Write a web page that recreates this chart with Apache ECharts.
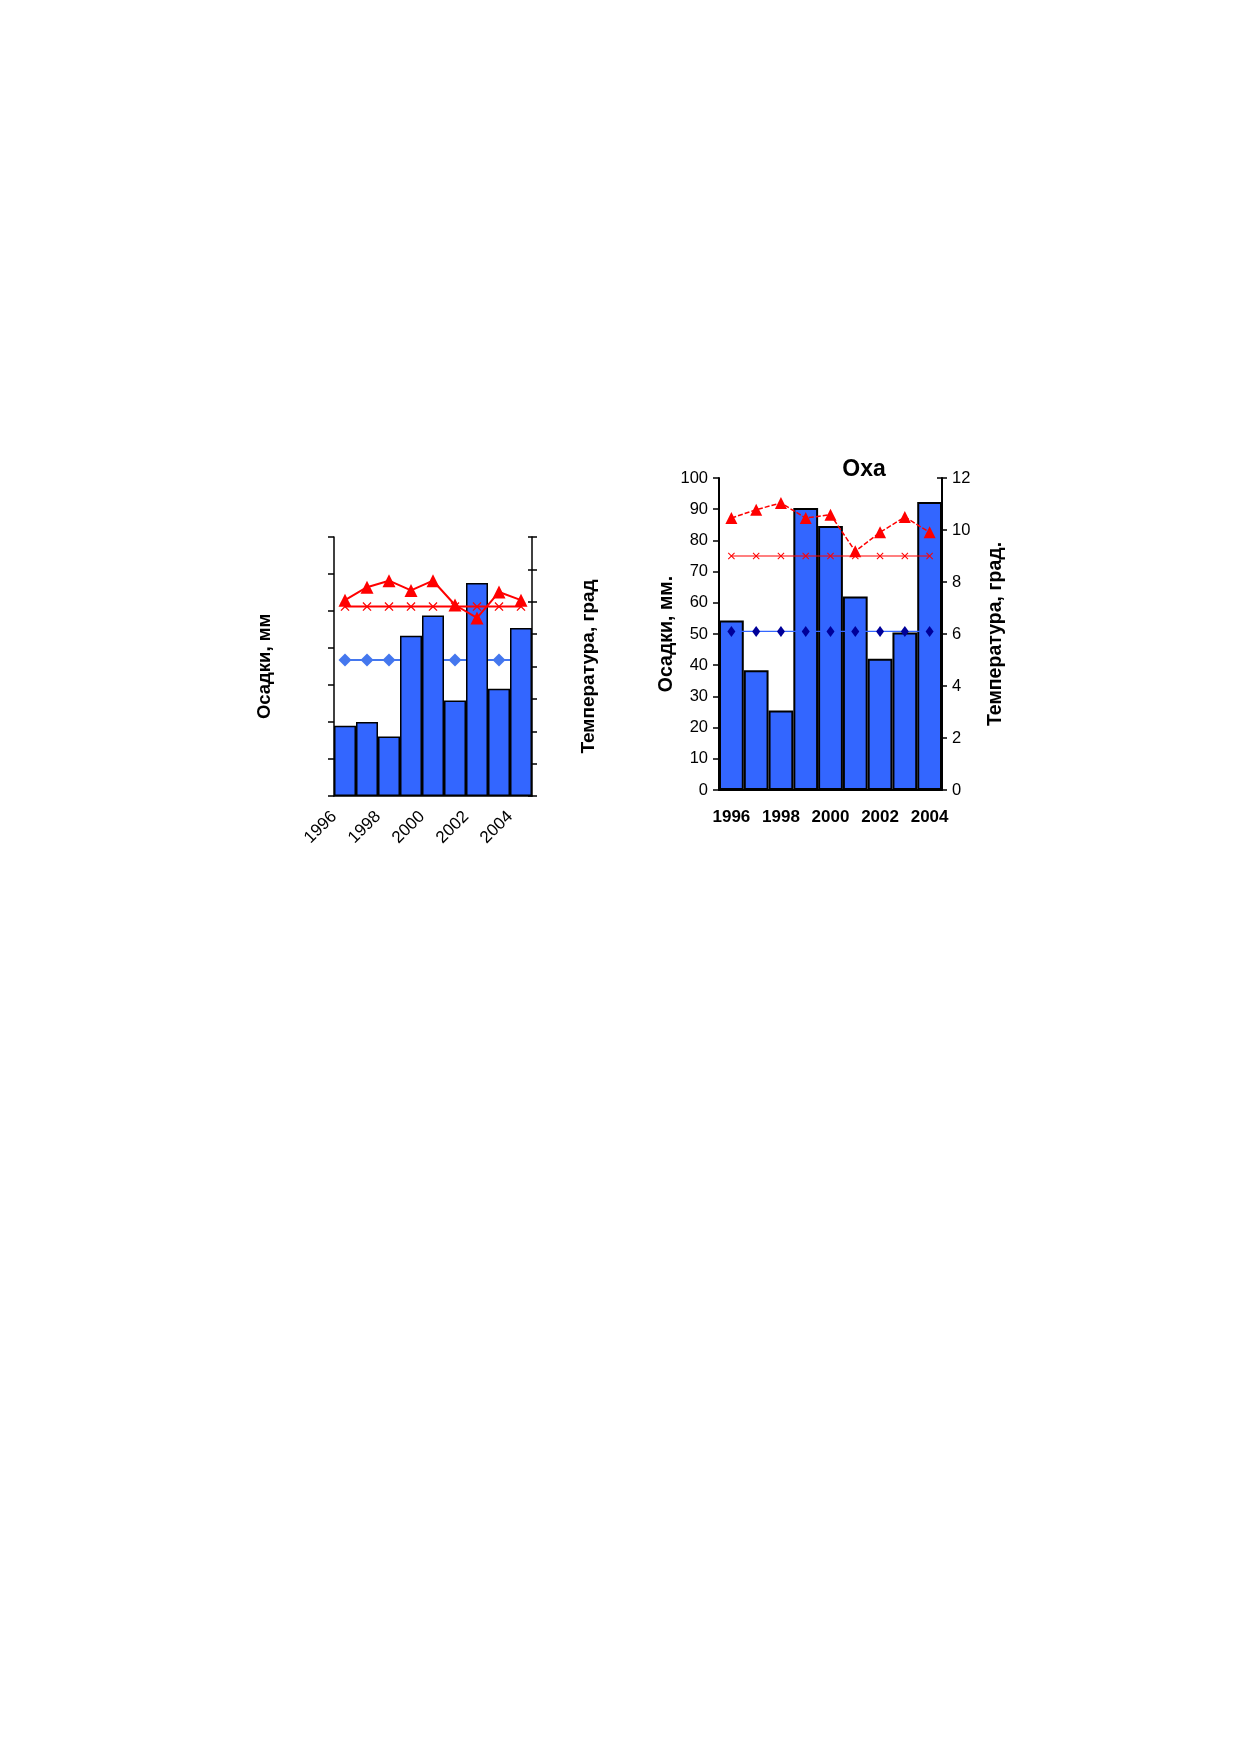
<!DOCTYPE html>
<html>
<head>
<meta charset="utf-8">
<script src="https://cdn.jsdelivr.net/npm/echarts@6/dist/echarts.min.js"></script>
<style>
  html, body { margin: 0; padding: 0; background: #fff; }
  #main { width: 1239px; height: 1752px; }
</style>
</head>
<body>
<div id="main"></div>
<script>
// годы
var years = ['1996', '1997', '1998', '1999', '2000', '2001', '2002', '2003', '2004']

// левая диаграмма (без подписей шкал)
var leftPrecip = [19.0, 20.0, 16.1, 43.3, 48.8, 25.8, 57.6, 29.0, 45.4]
var leftTemp = [12.1, 12.9, 13.3, 12.7, 13.3, 11.8, 11.0, 12.6, 12.1]
var leftTempNorm = [11.7, 11.7, 11.7, 11.7, 11.7, 11.7, 11.7, 11.7, 11.7]
var leftPrecipNorm = [8.4, 8.4, 8.4, 8.4, 8.4, 8.4, 8.4, 8.4, 8.4]

// Оха
var ohaPrecip = [54.3, 38.4, 25.5, 90.4, 84.6, 62.0, 42.1, 50.5, 92.3]
var ohaTemp = [10.46, 10.78, 11.04, 10.46, 10.59, 9.18, 9.91, 10.5, 9.91]
var ohaTempNorm = [9.0, 9.0, 9.0, 9.0, 9.0, 9.0, 9.0, 9.0, 9.0]
var ohaPrecipNorm = [6.1, 6.1, 6.1, 6.1, 6.1, 6.1, 6.1, 6.1, 6.1]

var font = 'Liberation Sans, Arial, sans-serif'
var crossSymbol = 'path://M0,1L1,0L5,4L9,0L10,1L6,5L10,9L9,10L5,6L1,10L0,9L4,5Z'
var black = '#000'

var myChart = echarts.init(document.getElementById('main'))

myChart.setOption({
  backgroundColor: '#fff',
  animation: false,
  textStyle: { fontFamily: font, color: black },
  title: {
    text: 'Оха',
    left: 859,
    textAlign: 'center',
    top: 453,
    textStyle: { fontSize: 23, fontWeight: 'bold', color: black, fontFamily: font }
  },
  grid: [
    { left: 334, top: 537, width: 198, height: 259 },
    { left: 719, top: 478, width: 223, height: 312 }
  ],
  xAxis: [
    {
      type: 'category', gridIndex: 0, data: years, boundaryGap: true, position: 'bottom',
      axisLine: { lineStyle: { color: black, width: 1.5 } },
      axisTick: { interval: 0, length: 4, lineStyle: { color: black, width: 1.5 } },
      axisLabel: { show: false }
    },
    {
      type: 'category', gridIndex: 0, data: years, boundaryGap: true, position: 'bottom',
      axisLine: { show: false },
      axisTick: { inside: true, interval: 0, length: 3, lineStyle: { color: black, width: 1.5 } },
      axisLabel: { show: false }
    },
    {
      type: 'value', gridIndex: 0, min: 0, max: 9, interval: 2, position: 'bottom',
      axisLine: { show: false }, axisTick: { show: false }, splitLine: { show: false },
      axisLabel: {
        rotate: 45, margin: 18, fontSize: 17, color: black, fontFamily: font,
        formatter: function (v) { return v % 2 === 0 && v < 9 ? String(1996 + v) : '' }
      }
    },
    {
      type: 'category', gridIndex: 1, data: years, boundaryGap: true, position: 'bottom',
      axisLine: { lineStyle: { color: black, width: 2 } },
      axisTick: { interval: 1, length: 6, lineStyle: { color: black, width: 1.5 } },
      axisLabel: { interval: 1, margin: 19, fontSize: 17, fontWeight: 'bold', color: black, fontFamily: font }
    }
  ],
  yAxis: [
    {
      type: 'value', gridIndex: 0, min: 0, max: 70, interval: 10, position: 'left',
      name: 'Осадки, мм', nameLocation: 'middle', nameRotate: 90, nameGap: 60,
      nameTextStyle: { fontSize: 18.5, fontWeight: 'bold', color: black, fontFamily: font },
      axisLine: { show: true, lineStyle: { color: black, width: 1.5 } },
      axisTick: { show: true, length: 6, lineStyle: { color: black, width: 1.5 } },
      axisLabel: { show: false }, splitLine: { show: false }
    },
    {
      type: 'value', gridIndex: 0, min: 0, max: 16, interval: 2, position: 'right',
      name: 'Температура, град', nameLocation: 'middle', nameRotate: 90, nameGap: 47,
      nameTextStyle: { fontSize: 19, fontWeight: 'bold', color: black, fontFamily: font },
      axisLine: { show: true, lineStyle: { color: black, width: 1.5 } },
      axisTick: { show: true, length: 5, lineStyle: { color: black, width: 1.5 } },
      axisLabel: { show: false }, splitLine: { show: false }
    },
    {
      type: 'value', gridIndex: 0, min: 0, max: 16, interval: 2, position: 'right',
      axisLine: { show: false },
      axisTick: { show: true, inside: true, length: 4, lineStyle: { color: black, width: 1.5 } },
      axisLabel: { show: false }, splitLine: { show: false }
    },
    {
      type: 'value', gridIndex: 1, min: 0, max: 100, interval: 10, position: 'left',
      name: 'Осадки, мм.', nameLocation: 'middle', nameRotate: 90, nameGap: 42,
      nameTextStyle: { fontSize: 19.5, fontWeight: 'bold', color: black, fontFamily: font },
      axisLine: { show: true, lineStyle: { color: black, width: 2 } },
      axisTick: { show: true, length: 6, lineStyle: { color: black, width: 1.5 } },
      axisLabel: { margin: 11, fontSize: 16.5, color: black, fontFamily: font },
      splitLine: { show: false }
    },
    {
      type: 'value', gridIndex: 1, min: 0, max: 12, interval: 2, position: 'right',
      name: 'Температура, град.', nameLocation: 'middle', nameRotate: 90, nameGap: 44,
      nameTextStyle: { fontSize: 19.5, fontWeight: 'bold', color: black, fontFamily: font },
      axisLine: { show: true, lineStyle: { color: black, width: 2 } },
      axisTick: { show: true, length: 5, lineStyle: { color: black, width: 1.5 } },
      axisLabel: { margin: 10, fontSize: 16.5, color: black, fontFamily: font },
      splitLine: { show: false }
    },
    {
      type: 'value', gridIndex: 1, min: 0, max: 12, interval: 2, position: 'right',
      axisLine: { show: false },
      axisTick: { show: true, inside: true, length: 5, lineStyle: { color: black, width: 1.5 } },
      axisLabel: { show: false }, splitLine: { show: false }
    }
  ],
  series: [
    // левая диаграмма
    {
      type: 'line', xAxisIndex: 0, yAxisIndex: 1, data: leftPrecipNorm, z: 1,
      symbol: 'diamond', symbolSize: 13,
      lineStyle: { color: '#4477EE', width: 2 }, itemStyle: { color: '#4477EE' }
    },
    {
      type: 'bar', xAxisIndex: 0, yAxisIndex: 0, data: leftPrecip, z: 2,
      barCategoryGap: '0%',
      itemStyle: { color: '#3366FF', borderColor: black, borderWidth: 1.5 }
    },
    {
      type: 'line', xAxisIndex: 0, yAxisIndex: 1, data: leftTempNorm, z: 3,
      symbol: crossSymbol, symbolSize: 9,
      lineStyle: { color: '#FF0000', width: 2 }, itemStyle: { color: '#FF0000' }
    },
    {
      type: 'line', xAxisIndex: 0, yAxisIndex: 1, data: leftTemp, z: 4,
      symbol: 'triangle', symbolSize: 13,
      lineStyle: { color: '#FF0000', width: 2 }, itemStyle: { color: '#FF0000' }
    },
    // Оха
    {
      type: 'bar', xAxisIndex: 3, yAxisIndex: 3, data: ohaPrecip, z: 2,
      barCategoryGap: '0%',
      itemStyle: { color: '#3366FF', borderColor: black, borderWidth: 2 }
    },
    {
      type: 'line', xAxisIndex: 3, yAxisIndex: 4, data: ohaPrecipNorm, z: 3,
      symbol: 'diamond', symbolSize: [8, 11],
      lineStyle: { color: '#3366FF', width: 1.2 }, itemStyle: { color: '#000099' }
    },
    {
      type: 'line', xAxisIndex: 3, yAxisIndex: 4, data: ohaTempNorm, z: 3,
      symbol: crossSymbol, symbolSize: 7,
      lineStyle: { color: '#FF0000', width: 1.2 }, itemStyle: { color: '#FF0000' }
    },
    {
      type: 'line', xAxisIndex: 3, yAxisIndex: 4, data: ohaTemp, z: 4,
      symbol: 'triangle', symbolSize: 12,
      lineStyle: { color: '#FF0000', width: 1.5, type: [5, 2] }, itemStyle: { color: '#FF0000' }
    }
  ]
})
</script>
</body>
</html>
